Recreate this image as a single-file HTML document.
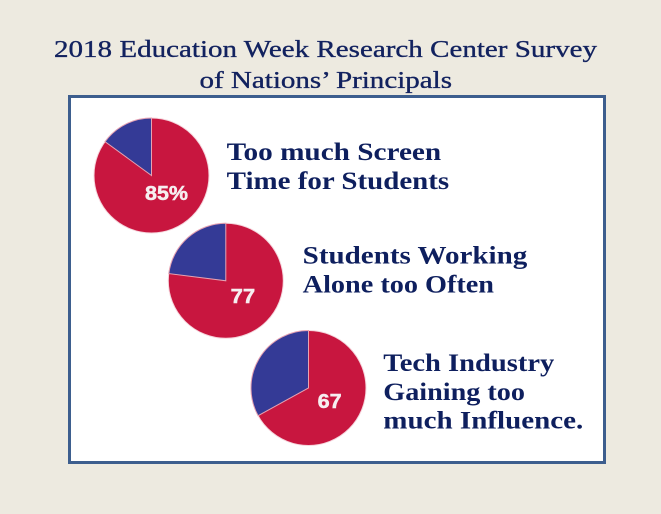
<!DOCTYPE html>
<html><head><meta charset="utf-8"><style>
html,body{margin:0;padding:0;background:#edeae0;}
svg{display:block;}
</style></head><body>
<svg width="661" height="514" viewBox="0 0 661 514" xmlns="http://www.w3.org/2000/svg">
<rect x="0" y="0" width="661" height="514" fill="#edeae0"/>
<g font-family="'Liberation Serif', serif" fill="#12225f" stroke="#12225f" stroke-width="0.35" font-size="24">
<text x="54" y="57" textLength="543" lengthAdjust="spacingAndGlyphs">2018 Education Week Research Center Survey</text>
<text x="199.5" y="88" textLength="252.5" lengthAdjust="spacingAndGlyphs">of Nations’ Principals</text>
</g>
<rect x="69.5" y="96.5" width="535" height="366" fill="#ffffff" stroke="#3d5e8e" stroke-width="3"/>
<!-- Pie 1 -->
<circle cx="151.5" cy="175.5" r="57.5" fill="#c8163f" stroke="#f5d5dc" stroke-width="1"/>
<path d="M151.5,175.5 L151.5,118 A57.5,57.5 0 0 0 105,141.7 Z" fill="#343a96" stroke="#e6a3b3" stroke-width="1"/>
<!-- Pie 2 -->
<circle cx="225.8" cy="280.8" r="57.5" fill="#c8163f" stroke="#f5d5dc" stroke-width="1"/>
<path d="M225.8,280.8 L225.8,223.3 A57.5,57.5 0 0 0 168.8,273.6 Z" fill="#343a96" stroke="#e6a3b3" stroke-width="1"/>
<!-- Pie 3 -->
<circle cx="308.5" cy="388" r="57.5" fill="#c8163f" stroke="#f5d5dc" stroke-width="1"/>
<path d="M308.5,388 L308.5,330.5 A57.5,57.5 0 0 0 258.1,415.7 Z" fill="#343a96" stroke="#e6a3b3" stroke-width="1"/>
<g font-family="'Liberation Sans', sans-serif" font-weight="bold" fill="#f6eef0" stroke="#f6eef0" stroke-width="0.5" font-size="20">
<text x="145" y="200" textLength="43" lengthAdjust="spacingAndGlyphs">85%</text>
<text x="230.7" y="303" textLength="24.5" lengthAdjust="spacingAndGlyphs">77</text>
<text x="317.7" y="408" textLength="24" lengthAdjust="spacingAndGlyphs">67</text>
</g>
<g font-family="'Liberation Serif', serif" font-weight="bold" fill="#0e1f5e" font-size="25.5">
<text x="226.7" y="160" textLength="214.5" lengthAdjust="spacingAndGlyphs">Too much Screen</text>
<text x="226.7" y="189" textLength="222.5" lengthAdjust="spacingAndGlyphs">Time for Students</text>
<text x="302.7" y="263.3" textLength="224.6" lengthAdjust="spacingAndGlyphs">Students Working</text>
<text x="302.7" y="292.7" textLength="191.3" lengthAdjust="spacingAndGlyphs">Alone too Often</text>
<text x="383.3" y="371" textLength="171" lengthAdjust="spacingAndGlyphs">Tech Industry</text>
<text x="383.3" y="400" textLength="141.7" lengthAdjust="spacingAndGlyphs">Gaining too</text>
<text x="383.3" y="428.3" textLength="200" lengthAdjust="spacingAndGlyphs">much Influence.</text>
</g>
</svg>
</body></html>
